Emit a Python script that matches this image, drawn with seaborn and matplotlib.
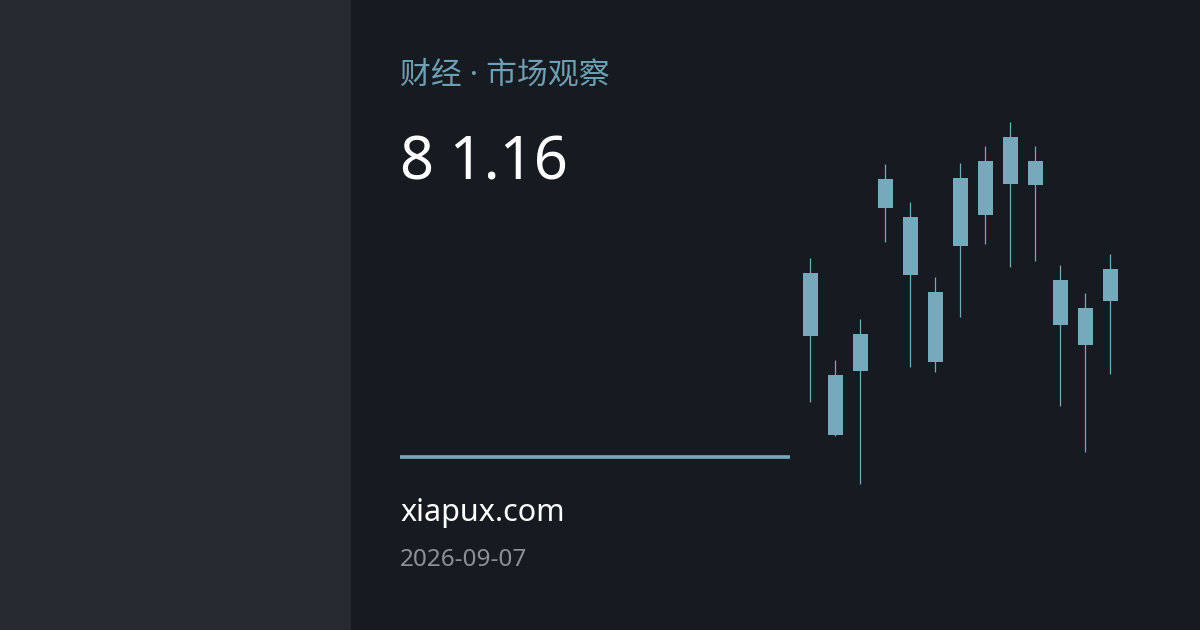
import matplotlib
matplotlib.use("Agg")
import matplotlib.pyplot as plt
import seaborn as sns
import numpy as np

# ---- data ----
labels = [f"d{i+1}" for i in range(13)]
opens  = [294, 255, 259, 422, 413, 268, 384, 415, 446, 469, 350, 322, 329]
closes = [357, 195, 296, 451, 355, 338, 452, 469, 493, 445, 305, 285, 361]
highs  = [372, 270, 311, 466, 428, 353, 467, 484, 508, 484, 365, 337, 376]
lows   = [228, 194, 146, 388, 263, 258, 313, 386, 363, 369, 224, 178, 256]

title_cn = "财经 · 市场观察"
big_value = "8 1.16"
site = "xiapux.com"
date_str = "2026-09-07"

# ---- style ----
sns.set_theme(style="white")
plt.rcParams["font.family"] = ["Noto Sans", "Noto Sans CJK SC", "DejaVu Sans"]

BG = "#161a21"
PANEL = "#272a31"
ACCENT = "#77a9bc"
TITLE_C = "#6f9fb3"
DATE_C = "#8b9099"

W, H = 1200, 630
fig = plt.figure(figsize=(12, 6.3), dpi=100)
fig.patch.set_facecolor(BG)

# background axes in pixel coordinates
bg = fig.add_axes([0, 0, 1, 1])
bg.set_xlim(0, W)
bg.set_ylim(H, 0)
bg.axis("off")
bg.add_patch(plt.Rectangle((0, 0), 351, H, color=PANEL, lw=0))
bg.plot([400, 790], [457, 457], color=ACCENT, lw=2.6, solid_capstyle="butt")

bg.text(400, 75, title_cn, color=TITLE_C, fontsize=22.2, va="center", ha="left",
        family=["Noto Sans", "Noto Sans CJK SC", "DejaVu Sans"])
bg.text(400, 180, big_value, color="#ffffff", fontsize=43, va="baseline", ha="left",
        family=["Noto Sans", "DejaVu Sans"])
bg.text(400, 521, site, color="#ffffff", fontsize=22, va="baseline", ha="left",
        family=["Noto Sans", "DejaVu Sans"])
bg.text(400, 566, date_str, color=DATE_C, fontsize=17.5, va="baseline", ha="left",
        family=["Noto Sans", "DejaVu Sans"])

# candlestick axes
ax = fig.add_axes([797.8 / W, 0, 325 / W, 1])
ax.set_facecolor("none")
x = np.arange(len(labels))
o = np.array(opens); c = np.array(closes)
ax.vlines(x, lows, highs, color=ACCENT, lw=0.9)
ax.bar(x, np.abs(c - o), bottom=np.minimum(o, c), width=0.6, color=ACCENT, lw=0)
ax.set_xlim(-0.5, len(labels) - 0.5)
ax.set_ylim(0, H)
ax.axis("off")

fig.savefig("out.png", dpi=100, facecolor=BG)
